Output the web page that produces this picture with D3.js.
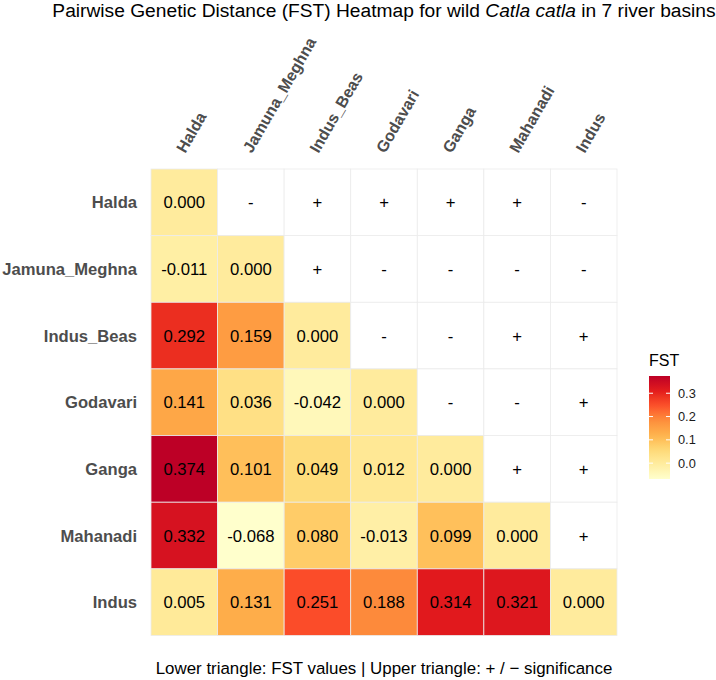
<!DOCTYPE html>
<html>
<head>
<meta charset="utf-8">
<style>
body { margin: 0; background: #fff; }
text { font-family: "Liberation Sans", Arial, sans-serif; }
.rowlab { font-weight: bold; fill: #4d4d4d; font-size: 16.6px; }
.collab { font-weight: bold; fill: #4d4d4d; font-size: 16px; }
</style>
<title>FST heatmap</title>
</head>
<body>
<div id="chart"></div>
<script src="https://d3js.org/d3.v7.min.js"></script>
<script>
// river basins, same order for rows (top to bottom) and columns (left to right)
var basins = ["Halda", "Jamuna_Meghna", "Indus_Beas", "Godavari", "Ganga", "Mahanadi", "Indus"];

// lower triangle (incl. diagonal), one array per row
var fstHalda    = [0.000];
var fstJamuna   = [-0.011, 0.000];
var fstIndBeas  = [0.292, 0.159, 0.000];
var fstGodavari = [0.141, 0.036, -0.042, 0.000];
var fstGanga    = [0.374, 0.101, 0.049, 0.012, 0.000];
var fstMahanadi = [0.332, -0.068, 0.080, -0.013, 0.099, 0.000];
var fstIndus    = [0.005, 0.131, 0.251, 0.188, 0.314, 0.321, 0.000];

// upper triangle significance signs, per row, columns right of the diagonal
var sigHalda    = ["-", "+", "+", "+", "+", "-"];
var sigJamuna   = ["+", "-", "-", "-", "-"];
var sigIndBeas  = ["-", "-", "+", "+"];
var sigGodavari = ["-", "-", "+"];
var sigGanga    = ["+", "+"];
var sigMahanadi = ["+"];

var legendTicks = [0.0, 0.1, 0.2, 0.3];
var palette = ["#FFFFCC", "#FFEDA0", "#FED976", "#FEB24C", "#FD8D3C", "#FC4E2A", "#E31A1C", "#BD0026"];

var fstRows = [fstHalda, fstJamuna, fstIndBeas, fstGodavari, fstGanga, fstMahanadi, fstIndus];
var sigRows = [sigHalda, sigJamuna, sigIndBeas, sigGodavari, sigGanga, sigMahanadi, []];

var cells = [];
basins.forEach(function(r, i) {
  fstRows[i].forEach(function(v, j) {
    cells.push({row: r, col: basins[j], value: v, label: v.toFixed(3)});
  });
  sigRows[i].forEach(function(s, k) {
    cells.push({row: r, col: basins[i + 1 + k], value: null, label: s});
  });
});

var width = 716, height = 680;
var svg = d3.select("#chart").append("svg")
  .attr("width", width)
  .attr("height", height);

var x = d3.scaleBand().domain(basins).range([151, 617]);
var y = d3.scaleBand().domain(basins).range([169, 635.5]);

var allVals = [].concat.apply([], fstRows);
var vmin = d3.min(allVals), vmax = d3.max(allVals);
var color = d3.scaleLinear()
  .domain(palette.map(function(d, i) { return vmin + (vmax - vmin) * i / (palette.length - 1); }))
  .range(palette)
  .interpolate(d3.interpolateLab);

// title
svg.append("text")
  .attr("x", (x.range()[0] + x.range()[1]) / 2)
  .attr("y", 16.5)
  .attr("text-anchor", "middle")
  .style("font-size", "19.2px")
  .attr("fill", "#000")
  .call(function(t) {
    t.append("tspan").text("Pairwise Genetic Distance (FST) Heatmap for wild ");
    t.append("tspan").style("font-style", "italic").text("Catla catla");
    t.append("tspan").text(" in 7 river basins");
  });

// tiles
svg.append("g").selectAll("rect")
  .data(cells)
  .enter().append("rect")
    .attr("x", function(d) { return x(d.col); })
    .attr("y", function(d) { return y(d.row); })
    .attr("width", x.bandwidth())
    .attr("height", y.bandwidth())
    .attr("fill", function(d) { return d.value === null ? "#fff" : color(d.value); })
    .attr("stroke", "#ebebeb")
    .attr("stroke-width", 0.8);

svg.append("g").selectAll("text")
  .data(cells)
  .enter().append("text")
    .attr("x", function(d) { return x(d.col) + x.bandwidth() / 2; })
    .attr("y", function(d) { return y(d.row) + y.bandwidth() / 2; })
    .attr("dy", "0.36em")
    .attr("text-anchor", "middle")
    .style("font-size", "16.7px")
    .attr("fill", "#000")
    .text(function(d) { return d.label; });

// row labels
svg.append("g").selectAll("text")
  .data(basins)
  .enter().append("text")
    .attr("class", "rowlab")
    .attr("x", 137)
    .attr("y", function(d) { return y(d) + y.bandwidth() / 2; })
    .attr("dy", "0.36em")
    .attr("text-anchor", "end")
    .text(function(d) { return d; });

// column labels, rotated
svg.append("g").selectAll("text")
  .data(basins)
  .enter().append("text")
    .attr("class", "collab")
    .attr("text-anchor", "start")
    .attr("transform", function(d) {
      return "translate(" + (x(d) + x.bandwidth() / 2 + 1) + ",154) rotate(-60)";
    })
    .text(function(d) { return d; });

// caption / x title
svg.append("text")
  .attr("x", (x.range()[0] + x.range()[1]) / 2)
  .attr("y", 674)
  .attr("text-anchor", "middle")
  .style("font-size", "16.9px")
  .attr("fill", "#000")
  .text("Lower triangle: FST values | Upper triangle: + / \u2212 significance");

// legend
var ly = d3.scaleLinear().domain([vmin, vmax]).range([479, 376]);
var defs = svg.append("defs");
var grad = defs.append("linearGradient")
  .attr("id", "fstgrad")
  .attr("x1", 0).attr("y1", 1).attr("x2", 0).attr("y2", 0);
d3.range(0, 1.0001, 0.05).forEach(function(t) {
  grad.append("stop")
    .attr("offset", t)
    .attr("stop-color", color(vmin + t * (vmax - vmin)));
});

var legend = svg.append("g");
legend.append("text")
  .attr("x", 649)
  .attr("y", 366)
  .style("font-size", "16px")
  .attr("fill", "#000")
  .text("FST");

legend.append("rect")
  .attr("x", 649)
  .attr("y", ly(vmax))
  .attr("width", 21)
  .attr("height", ly(vmin) - ly(vmax))
  .attr("fill", "url(#fstgrad)");

legendTicks.forEach(function(t) {
  legend.append("line")
    .attr("x1", 649).attr("x2", 653)
    .attr("y1", ly(t)).attr("y2", ly(t))
    .attr("stroke", "#fff").attr("stroke-width", 1);
  legend.append("line")
    .attr("x1", 666).attr("x2", 670)
    .attr("y1", ly(t)).attr("y2", ly(t))
    .attr("stroke", "#fff").attr("stroke-width", 1);
  legend.append("text")
    .attr("x", 678)
    .attr("y", ly(t))
    .attr("dy", "0.36em")
    .style("font-size", "12.8px")
    .attr("fill", "#1a1a1a")
    .text(d3.format(".1f")(t));
});
</script>
</body>
</html>
